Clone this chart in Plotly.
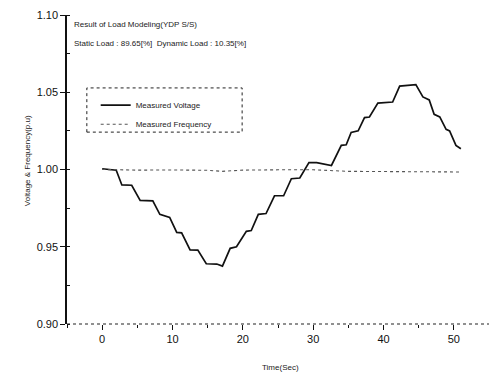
import plotly.graph_objects as go

# Measured voltage (p.u.) over time (sec)
volt_t = [0, 1.0, 2.0, 2.8, 4.2, 5.4, 7.2, 8.2, 9.6, 10.6, 11.3, 12.5, 13.6, 14.8, 16.3,
          17.1, 18.2, 19.1, 20.5, 21.2, 22.2, 23.3, 24.5, 25.8, 26.9, 28.1, 29.4, 30.5,
          32.6, 34.0, 34.7, 35.4, 36.4, 37.3, 38.0, 39.2, 41.3, 42.3, 44.6, 45.6, 46.5,
          47.2, 48.0, 48.9, 49.4, 50.3, 51.0]
volt_v = [1.0005, 1.0002, 0.9995, 0.990, 0.9898, 0.980, 0.9797, 0.971, 0.969, 0.9593,
          0.9590, 0.948, 0.9478, 0.939, 0.9388, 0.9375, 0.949, 0.950, 0.960, 0.9605,
          0.971, 0.9715, 0.983, 0.983, 0.994, 0.9945, 1.0045, 1.0045, 1.0026, 1.0156,
          1.016, 1.024, 1.025, 1.0336, 1.034, 1.043, 1.0437, 1.054, 1.055, 1.047, 1.045,
          1.0357, 1.034, 1.026, 1.025, 1.0156, 1.0134]

# Measured frequency (p.u.)
freq_t = [0, 5, 10, 15, 17, 20, 25, 30, 35, 40, 45, 51]
freq_v = [1.0, 0.9996, 0.9997, 0.9995, 0.9988, 0.9996, 0.9998, 0.9998, 0.9988, 0.9987,
          0.9985, 0.9984]

x_ticks = [0, 10, 20, 30, 40, 50]
y_ticks = [0.90, 0.95, 1.00, 1.05, 1.10]
y_tick_text = ["0.90", "0.95", "1.00", "1.05", "1.10"]

FONT = "Liberation Sans, Arial, sans-serif"

fig = go.Figure()
fig.add_trace(go.Scatter(x=volt_t, y=volt_v, mode="lines", name="Measured Voltage",
                         line=dict(color="#111111", width=1.7), legendgroup="v"))
fig.add_trace(go.Scatter(x=freq_t, y=freq_v, mode="lines", name="Measured Frequency",
                         line=dict(color="#555555", width=1.1, dash="dot"),
                         legendgroup="f"))

# dotted bottom axis line
fig.add_shape(type="line", xref="paper", yref="paper", x0=0, x1=1, y0=0, y1=0,
              line=dict(color="#222222", width=1.2, dash="dot"))
# dotted legend frame
fig.add_shape(type="rect", xref="paper", yref="paper", x0=0.047, x1=0.415,
              y0=0.621, y1=0.764, line=dict(color="#222222", width=1, dash="dot"))

fig.add_annotation(text="Result of Load Modeling(YDP S/S)", xref="paper", yref="paper",
                   x=0.012, y=0.968, xanchor="left", yanchor="middle", showarrow=False,
                   font=dict(size=8, color="#222222", family=FONT))
fig.add_annotation(text="Static Load : 89.65[%]  Dynamic Load : 10.35[%]", xref="paper",
                   yref="paper", x=0.012, y=0.909, xanchor="left", yanchor="middle",
                   showarrow=False, font=dict(size=8, color="#222222", family=FONT))
fig.add_annotation(text="Voltage & Frequency(p.u)", xref="paper", yref="paper",
                   x=-0.095, y=0.53, xanchor="center", yanchor="middle", textangle=-90,
                   showarrow=False, font=dict(size=8, color="#222222", family=FONT))
fig.add_annotation(text="Time(Sec)", xref="paper", yref="paper", x=0.505, y=-0.14,
                   xanchor="center", yanchor="middle", showarrow=False,
                   font=dict(size=8, color="#222222", family=FONT))

fig.update_layout(
    width=489, height=372,
    margin=dict(l=67, r=0, t=15, b=48),
    paper_bgcolor="white", plot_bgcolor="white",
    font=dict(family=FONT, color="#111111", size=11),
    showlegend=True,
    legend=dict(x=0.068, y=0.755, xanchor="left", yanchor="top",
                bgcolor="rgba(0,0,0,0)", borderwidth=0, tracegroupgap=0,
                font=dict(size=8, color="#222222", family=FONT)),
    xaxis=dict(range=[-5, 55], tickvals=x_ticks, ticks="outside", ticklen=5,
               tickcolor="#111111", showgrid=False, zeroline=False, showline=False,
               tickfont=dict(size=11),
               minor=dict(dtick=5, tick0=0, ticks="outside", ticklen=3,
                          tickcolor="#111111", showgrid=False)),
    yaxis=dict(range=[0.90, 1.10], tickvals=y_ticks, ticktext=y_tick_text,
               ticks="outside", ticklen=5, tickcolor="#111111", showgrid=False,
               zeroline=False, showline=True, linecolor="#111111", linewidth=1.5,
               tickfont=dict(size=11),
               minor=dict(dtick=0.025, tick0=0.9, ticks="inside", ticklen=3,
                          tickcolor="#111111", showgrid=False)),
)

fig.write_html("out.html")
